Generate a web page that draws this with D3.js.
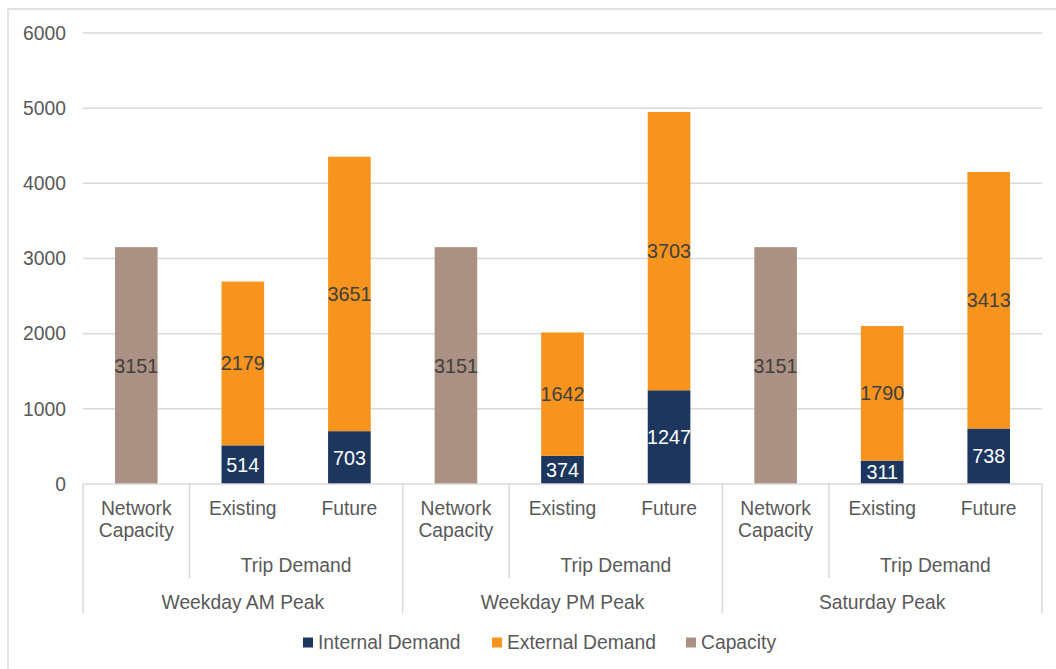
<!DOCTYPE html>
<html>
<head>
<meta charset="utf-8">
<script src="https://cdn.jsdelivr.net/npm/d3@7"></script>
<style>
  body { margin: 0; background: #fff; }
  text { font-family: "Liberation Sans", Arial, sans-serif; }
</style>
</head>
<body>
<script>
// categories (group, sub-group, column)
var groups = ["Weekday AM Peak", "Weekday PM Peak", "Saturday Peak"];
var columns = ["Network Capacity", "Existing", "Future"];
var internalDemand = [0, 514, 703, 0, 374, 1247, 0, 311, 738];
var externalDemand = [0, 2179, 3651, 0, 1642, 3703, 0, 1790, 3413];
var capacity = [3151, 0, 0, 3151, 0, 0, 3151, 0, 0];
var yTicks = [0, 1000, 2000, 3000, 4000, 5000, 6000];

var colors = { internal: "#1c365e", external: "#f7941e", capacity: "#ab9183" };

var width = 1056, height = 669;
var plotLeft = 83, plotRight = 1042, plotTop = 33, plotBottom = 484;
var fs = 19.3;

var svg = d3.select("body").append("svg")
    .attr("width", width)
    .attr("height", height);

// outer frame
svg.append("rect")
    .attr("x", 8).attr("y", 9)
    .attr("width", 1100).attr("height", 700)
    .attr("fill", "none")
    .attr("stroke", "#d9d9d9")
    .attr("stroke-width", 1.5);

var idx = d3.range(9);
var x = d3.scaleBand().domain(idx).range([plotLeft, plotRight]).paddingInner(0.6).paddingOuter(0.3);
var y = d3.scaleLinear().domain([0, 6000]).range([plotBottom, plotTop]);
var slot = (plotRight - plotLeft) / 9;

// gridlines
svg.selectAll(".grid").data(yTicks.slice(1)).enter().append("line")
    .attr("x1", plotLeft).attr("x2", plotRight)
    .attr("y1", function(d) { return y(d); })
    .attr("y2", function(d) { return y(d); })
    .attr("stroke", "#d9d9d9").attr("stroke-width", 1.5);

// y tick labels
svg.selectAll(".ytick").data(yTicks).enter().append("text")
    .attr("x", 66)
    .attr("y", function(d) { return y(d); })
    .attr("dy", "0.35em")
    .attr("text-anchor", "end")
    .attr("font-size", fs)
    .attr("fill", "#595959")
    .text(function(d) { return d; });

// stacked bars
var series = [
  { key: "capacity", vals: capacity, base: idx.map(function() { return 0; }), label: "#404040" },
  { key: "internal", vals: internalDemand, base: idx.map(function() { return 0; }), label: "#ffffff" },
  { key: "external", vals: externalDemand, base: internalDemand, label: "#404040" }
];

series.forEach(function(s) {
  var data = idx.filter(function(i) { return s.vals[i] > 0; });
  svg.selectAll(".bar-" + s.key).data(data).enter().append("rect")
      .attr("x", function(i) { return x(i); })
      .attr("width", x.bandwidth())
      .attr("y", function(i) { return y(s.base[i] + s.vals[i]); })
      .attr("height", function(i) { return y(s.base[i]) - y(s.base[i] + s.vals[i]); })
      .attr("fill", colors[s.key]);

  svg.selectAll(".lbl-" + s.key).data(data).enter().append("text")
      .attr("x", function(i) { return x(i) + x.bandwidth() / 2; })
      .attr("y", function(i) { return y(s.base[i] + s.vals[i] / 2); })
      .attr("dy", "0.35em")
      .attr("text-anchor", "middle")
      .attr("font-size", 19.8)
      .attr("fill", s.label)
      .text(function(i) { return s.vals[i]; });
});

// category axis
var axisColor = "#d9d9d9";
svg.append("line")
    .attr("x1", plotLeft).attr("x2", plotRight)
    .attr("y1", plotBottom).attr("y2", plotBottom)
    .attr("stroke", axisColor).attr("stroke-width", 1.5);

// group dividers
d3.range(4).forEach(function(g) {
  var gx = plotLeft + g * 3 * slot;
  svg.append("line")
      .attr("x1", gx).attr("x2", gx)
      .attr("y1", plotBottom).attr("y2", 613)
      .attr("stroke", axisColor).attr("stroke-width", 1.5);
});

groups.forEach(function(name, g) {
  var gx = plotLeft + g * 3 * slot;
  // divider between Network Capacity and Trip Demand
  svg.append("line")
      .attr("x1", gx + slot).attr("x2", gx + slot)
      .attr("y1", plotBottom).attr("y2", 578)
      .attr("stroke", axisColor).attr("stroke-width", 1.5);

  columns.forEach(function(c, k) {
    var cx = x(g * 3 + k) + x.bandwidth() / 2;
    var lines = c === "Network Capacity" ? ["Network", "Capacity"] : [c];
    var t = svg.append("text")
        .attr("text-anchor", "middle")
        .attr("font-size", fs)
        .attr("fill", "#595959");
    lines.forEach(function(l, li) {
      t.append("tspan").attr("x", cx).attr("y", 514.5 + li * 22.5).text(l);
    });
  });

  svg.append("text")
      .attr("x", gx + slot * 2)
      .attr("y", 572)
      .attr("text-anchor", "middle")
      .attr("font-size", fs)
      .attr("fill", "#595959")
      .text("Trip Demand");

  svg.append("text")
      .attr("x", gx + slot * 1.5)
      .attr("y", 608.5)
      .attr("text-anchor", "middle")
      .attr("font-size", fs)
      .attr("fill", "#595959")
      .text(name);
});

// legend
var legend = [
  { name: "Internal Demand", color: colors.internal, x: 303 },
  { name: "External Demand", color: colors.external, x: 492 },
  { name: "Capacity", color: colors.capacity, x: 686 }
];
var lg = svg.selectAll(".legend").data(legend).enter().append("g")
    .attr("transform", function(d) { return "translate(" + d.x + ",642)"; });
lg.append("rect")
    .attr("x", 0).attr("y", -4.5)
    .attr("width", 10).attr("height", 10)
    .attr("fill", function(d) { return d.color; });
lg.append("text")
    .attr("x", 15)
    .attr("dy", "0.35em")
    .attr("font-size", fs)
    .attr("fill", "#595959")
    .text(function(d) { return d.name; });
</script>
</body>
</html>
